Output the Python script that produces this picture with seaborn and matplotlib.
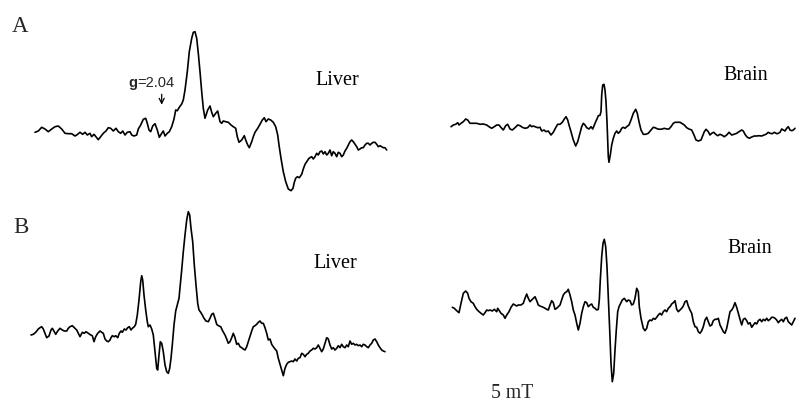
import matplotlib
matplotlib.use("Agg")
import matplotlib.pyplot as plt
import pandas as pd
import seaborn as sns

# EPR first-derivative traces: field offset (arbitrary units) and signal amplitude (a.u.)
liver_a_field = [0, 3.3, 6.7, 10, 13.3, 16.7, 20, 23.3, 26.7, 30, 33.3, 36.7, 40, 41.7, 45, 47.7, 50, 52.3, 55, 56.7,
                 59, 61.7, 63.3, 65.7, 68.3, 71, 73.3, 75.7, 78.3, 81, 83.3, 85.7, 87.7, 90, 92.3, 95, 96.7, 99, 101.7,
                 103.3, 105.7, 108.3, 110.7, 112.3, 114, 115.7, 117.7, 120, 122.3, 124.3, 126.7, 128.3, 130, 132.3,
                 134.3, 136.7, 139, 140.7, 142.3, 144.3, 146.7, 148.3, 150, 152.3, 154.3, 156.7, 158.3, 160, 161.7,
                 163.3, 165, 166.7, 168.3, 170, 172.7, 175, 176.7, 178.3, 180.7, 182.7, 185, 186.7, 188.3, 190.7,
                 193.3, 196, 198.3, 200.7, 202.3, 204, 206.7, 209.3, 210.7, 212.7, 214.3, 216.7, 218.3, 220, 222.7,
                 225, 227.3, 229.3, 231, 233.3, 235.7, 238.3, 240.7, 242.7, 244, 246, 248.3, 250.7, 253.3, 256, 258,
                 259.3, 260.7, 262.3, 264.3, 266.7, 268.3, 270, 271.7, 274, 276.7, 278.3, 280, 281.7, 283.3, 285,
                 286.7, 288.3, 290, 291.7, 293.3, 295, 296.7, 298.3, 300, 301.7, 303.3, 305, 306.7, 308.3, 310, 311.7,
                 313.3, 315, 316.7, 318.3, 320, 321.7, 323.3, 325, 326.7, 328.3, 330, 331.7, 333.3, 335, 336.7, 338.3,
                 340, 341.7, 343.3, 345, 346.7, 348.3, 350, 351.7]
liver_a_signal = [-0.3, 1, 4.7, 3, 0.3, 3, 5.3, 6, 3, -1.3, -1.7, -1.7, -4, -3, -0.3, -2.3, -0.3, -3, -1.3, -4.7,
                  -2.3, -5.7, -7.7, -4.7, -1.3, 1, 4.3, 3.7, 1, 3.7, 0.3, -1.3, 1, -3, -0.3, 0.3, -3, -4, -3,
                  3, 7, 12.7, 13.7, 8.7, 2, 0.3, 6, 8.3, 2, -5.3, -1.3, 1, -4, -1.3,
                  0.3, 5.3, 13, 22, 21.3, 24.7, 28, 32, 42, 60.3, 80.3, 93.7, 99.7, 100.3, 93.7,
                  78.7, 60.3, 40.3, 23.7, 13.7, 22, 26, 19.7, 15.3, 18.7, 21, 10.3, 8.7, 11, 10.3,
                  9.7, 7, 5.3, 3.7, -4.7, -10.3, -8, -3.7, -8, -13, -15.7, -9.7, -4.7, -0.3, 3.7,
                  7.7, 12, 14.3, 10.3, 13, 12, 9.7, 5.3, -3, -13, -26.3, -39.7, -49.7, -57, -58.7, -56.3,
                  -50.3, -46.3, -44.7, -45.7, -42.3, -37, -32.3, -29.7, -26.3, -24.7, -27, -24.7, -21.3, -23, -19.7,
                  -19, -22, -19.7, -23, -21.3, -18, -23.7, -19.7, -21.3, -24.7, -20.3, -21.3, -24.7, -23, -19, -16.3,
                  -13, -9.7, -8, -9.7, -12.3, -14.7, -18, -17, -15.7, -15.7, -13, -11.3, -11.3, -13, -11.3, -10.3,
                  -10.3, -12.3, -14.7, -13.7, -14.7, -15.7, -15.7, -18]

brain_a_field = [0, 2.3, 4.7, 6.7, 8, 10, 12.3, 14.7, 16.7, 19, 22.3, 25.7, 29, 32.3, 35.7, 38, 40.7, 43.3, 45.7,
                 48, 50.7, 52.3, 54.7, 56.7, 59, 61.3, 64, 66.7, 69, 71.3, 74, 76.7, 79, 80.7, 82.3, 84, 86.7, 89,
                 90.7, 93, 95, 97.3, 100, 102.3, 104.7, 106.7, 109, 111.3, 113.3, 115, 116.7, 118, 120, 122.3, 124.7,
                 126.7, 129, 130.7, 132.3, 134, 135.7, 138, 140, 141.7, 143.3, 144.7, 146, 147.3, 149, 150, 150.7,
                 151.7, 153, 154, 155, 156, 156.7, 157.3, 158, 159.3, 160.7, 162.3, 164, 165.7, 167.3, 169, 170.7,
                 172.3, 174, 175.7, 178, 180, 182.3, 184.7, 186.3, 188, 190, 192.3, 194.7, 197.3, 200, 202.3, 204,
                 206.7, 209, 211.3, 213.3, 215.7, 218, 220, 222.3, 224, 226.7, 229, 230.7, 233.3, 235.7, 238, 240.7,
                 243, 245, 247.3, 250, 251.3, 253.3, 255, 257.3, 259, 260.7, 262.7, 264.7, 266.7, 269, 270.7, 273.3,
                 275.7, 278, 280.7, 283, 285.7, 288, 290.7, 292.3, 294, 296, 298.3, 300.7, 303.3, 305.7, 308, 310.7,
                 313, 315, 317.3, 319, 321.3, 323.3, 325.7, 327.3, 329, 330.7, 332.3, 334, 335.7, 337.3, 339, 340.7,
                 342.3, 344]
brain_a_signal = [-1.7, 0, 0.7, 2.3, 0, 1.7, 3.3, 6, 5, 1.7, 1.7, 1.7, 0.7, 1, 0, -1.7, -3.3, -1.7, 0,
                  0, -3.3, -5, -0.7, 0.7, -4, -5, -2.7, 0, -0.7, -2.3, -3.3, -2.7, 0, -1.7, -1, -1.7, -2.7, -2.3,
                  -6, -5, -6.7, -6, -10, -7.3, -2.7, 0.7, 0.7, 2.7, 6, 8.3, 5, 0, -6.7, -15, -21,
                  -16.7, -8.3, -1.7, 1.7, 0, -2.7, -4, -1.7, -4, 0, 3.3, 6, 9.3, 9.7, 13.3, 30,
                  40, 40.7, 35, 23.3, 3.3, -16.7, -31.7, -37.3, -30, -20, -13.3, -8.3, -6, -8.3, -6.7, -3.3,
                  -2.3, -3.3, -1.7, 0, 5, 11.7, 15.7, 11.7, 3.3, -5, -9.3, -9.3, -8.3, -5, -2.3, -2.7,
                  -4, -4.3, -4, -3.3, -4, -4, -1.7, 1.7, 2.7, 2.7, 2.7, 1.7, 0, -2.7, -4, -5,
                  -10, -15, -16, -15, -11.7, -6.7, -4.3, -6.7, -10, -8.3, -7.3, -9.3, -10.7, -9.3, -10, -11.7,
                  -10, -7.3, -10, -9.3, -8.3, -6.7, -5, -6, -9.3, -12, -13.3, -12, -11, -11, -10.7, -11,
                  -10, -9.3, -7.3, -8.3, -8.7, -7.3, -8.7, -8.3, -7.3, -4, -5, -6, -3.3, -1.7, -5, -5.7,
                  -5, -3.3]

liver_b_field = [0, 2.3, 4.7, 7.3, 9, 10.7, 12.3, 14, 15.7, 18, 20, 21.3, 23.3, 24.7, 26.7, 29, 31.3, 33.3, 35.7,
                 37.3, 39, 41.3, 43.3, 45.7, 47.3, 49, 51.3, 53.3, 55, 57.3, 59.7, 61.3, 63, 64.7, 66.7, 69, 70.7,
                 72.3, 74, 75.7, 77.3, 79, 80, 81.3, 83.3, 84.7, 86.7, 88.3, 90, 91.3, 93.3, 95, 96.7, 98.3, 100,
                 101.3, 103.3, 104.7, 106.3, 108, 109.7, 110.7, 111.7, 113, 114.7, 116.3, 117.3, 119, 120.7, 122.3,
                 124, 125.7, 126.7, 128, 129.3, 130.7, 132.3, 134, 135.7, 137.3, 138.7, 140, 141.3, 143, 144.7,
                 146.7, 148, 149.3, 150.7, 152.3, 154, 155.7, 157.3, 158.7, 160, 161.7, 163.3, 165, 166.7, 168,
                 169.7, 171.3, 173, 175, 177.3, 179, 180.7, 182.3, 184, 185.7, 187.3, 189.7, 191.7, 194, 195.7,
                 197.3, 199, 200.7, 202.3, 204, 205.7, 207.3, 209, 210.7, 212.3, 214, 215.7, 217.3, 219, 220.7,
                 222.3, 224, 225.7, 227.3, 229, 230.7, 232.3, 234, 235.7, 237.3, 239, 240.7, 242.3, 244, 245.7,
                 247.3, 249, 250.7, 252.3, 254, 255.7, 257.3, 259, 260.7, 262.3, 264, 265.7, 267.3, 269, 270.7,
                 272.3, 274, 275.7, 277.3, 279, 280.7, 282.3, 284, 285.7, 287.3, 289, 290.7, 292.3, 294, 295.7,
                 297.3, 299, 300.7, 302.3, 304, 305.7, 307.3, 309, 310.7, 312.3, 314, 315.7, 317.3, 319, 320.7,
                 322.3, 324, 325.7, 327.3, 329, 330.7, 332.3, 334, 335.7, 337.3, 339, 340.7, 342.3, 344, 345.7,
                 347.3, 349, 350.7, 352.3, 354]
liver_b_signal = [-3, -2.3, -0.3, 3, 4.3, 5.3, 3, -1.3, -5.7, -4, 2, 3.7, 0.3, -2.3, 1, 3.7, 2, 1, 1,
                  3.7, 5.3, 6.3, 4.3, 2, -1.3, -4.7, -0.3, -1.3, 0.3, -1.3, -3, -3.7, -9.7, -4.7, -1.3, 1, -0.3,
                  -1.3, -7, -9, -9.7, -8, -5.7, -3.7, -4.7, -3.7, -5.7, -1.3, 1, -0.3, 3, 2, 4.3, 5.3, 2,
                  3.7, 5.3, 7.7, 17, 32, 50.3, 56.3, 52, 37, 22, 10.3, 5.3, 7, 3, -3,
                  -19.7, -36.3, -38, -23, -9.7, -11.3, -19.7, -33, -39.7, -41.3, -36.3, -26.3, -13, 7, 21,
                  28.7, 33.7, 47, 62, 80.3, 97, 112, 120.3, 117, 103.7, 90.3, 67, 47, 28.7, 22,
                  19.7, 17, 13.7, 11, 10.3, 13.7, 17.7, 18.7, 13.7, 7.7, 6.3, 5.3, 1, -3, -7,
                  -11.3, -9.7, -5.7, -1.3, -5.7, -12.3, -11.3, -14.7, -15.7, -17, -18, -14.7, -9.7, -4.7, 1,
                  5.3, 6.3, 7.7, 9.7, 11, 8.7, 8.7, 4.3, -1.3, -8, -7, -12.3, -14.7, -17, -19,
                  -26.3, -32.3, -38, -43.7, -36.3, -32.3, -30.3, -29.7, -29, -29.7, -27, -29, -26.3, -25.7, -21.3,
                  -22.3, -24.7, -22.3, -21.3, -19, -18, -16.3, -17, -15.7, -13, -16.3, -19.7, -17, -11.3, -5.7,
                  -7, -13, -17, -15.7, -18, -16.3, -13.7, -15.7, -12.3, -14.7, -15.7, -13, -14.7, -9, -12.3,
                  -11.3, -13, -12.3, -13.7, -13, -14.7, -12.3, -13, -14.7, -15.7, -13, -11.3, -8, -7, -9.7,
                  -13, -15.7, -18, -19, -19.7]

brain_b_field = [0.3, 2.3, 4.7, 7, 9, 11.3, 13.7, 15.7, 17, 19, 21.3, 23, 24.7, 26.3, 29, 31.3, 33, 34.7, 36.3,
                 38, 40.3, 42.3, 44.7, 45.7, 47.3, 49, 51.3, 53, 54.7, 57, 59, 61.3, 63, 64.7, 66.3, 69, 71.3,
                 73, 74.7, 76.3, 78, 79.7, 81.3, 83, 84.7, 86.3, 88, 89.7, 91.3, 93, 94.7, 96.3, 98, 99.7, 101.3,
                 103, 104.7, 106.3, 108, 109.7, 111.3, 113, 114.7, 116.3, 118, 119.7, 121.3, 123, 124.7, 126.3,
                 128, 129.7, 131.3, 133, 134.7, 136.3, 138, 139.7, 141.3, 143, 144.7, 146.3, 147.3, 148.3, 149.7,
                 151, 152.3, 153.7, 155, 156.3, 157.7, 159, 160.3, 161.7, 163, 164.3, 165.7, 167, 168.7, 170.3,
                 172.3, 174.7, 176.3, 178, 179.7, 181.3, 183, 184.7, 186.3, 187.3, 189, 191.3, 193, 194.7, 196.3,
                 198, 199.7, 201.3, 203, 204.7, 206.3, 208, 209.7, 211.3, 213, 214.7, 216.3, 218, 219.7, 221.3,
                 223, 224.7, 226.3, 228, 229.7, 231.3, 233, 234.7, 236.3, 238, 239.7, 241.3, 243, 244.7, 246.3,
                 248, 249.7, 251.3, 253, 254.7, 256.3, 258, 259.7, 261.3, 263, 264.7, 266.3, 268, 269.7, 271.3,
                 273, 274.7, 276.3, 278, 279.7, 281.3, 283, 284.7, 286.3, 288, 289.7, 291.3, 293, 294.7, 296.3,
                 298, 299.7, 301.3, 303, 304.7, 306.3, 308, 309.7, 311.3, 313, 314.7, 316.3, 318, 319.7, 321.3,
                 323, 324.7, 326.3, 328, 329.7, 331.3, 333, 334.7, 336.3, 338, 339.7, 341.3, 343]
brain_b_signal = [-0.3, -1.3, -3.7, -5.7, 3.7, 13.7, 16, 13.7, 8.7, 5.3, 3.7, 0.3, -2.3, -4, -6.3, -8, -5.7, -3, -3.7,
                  -3, -4, -2.3, -4.7, -1.3, -3.7, -6.3, -8, -11.3, -8, -4.7, -0.3, 3, 2, 1, 2, 2, 3.7,
                  8.7, 13, 8.7, 5.3, 7, 8.7, 10.3, 6.3, 2, 1, 0.3, -0.3, -1.3, -2.3, -3, 2, 6.3, 4.3,
                  -2.3, -1.3, 0.3, 2, 7, 12, 14.3, 15.3, 17.7, 12, 5.3, -3, -8, -16.3, -23,
                  -16.3, -6.3, 0.3, 5.3, 4.3, 0.3, 2, 3, -0.3, -1.3, -3, -2.3, 7, 27, 50.3,
                  63.7, 67.7, 60.3, 40.3, 10.3, -23, -56.3, -74.7, -66.3, -43, -23, -4.7, 0.3, 3.7, 7,
                  8.7, 5.3, 7, 6.3, 2, 3, 8.7, 18.7, 15.3, 0.3, -11.3, -21.3, -23.7, -21.3, -14.7,
                  -13, -13.7, -11.3, -12.3, -10.3, -8, -6.3, -8, -4.7, -3, -4.7, -1.3, 0.3, 3, 4.3,
                  6.3, -2.3, -4.7, -3, -1.3, 1, 5.3, 6.3, 1, -3, -6.3, -14.7, -19.7, -20.3, -24.7,
                  -26.3, -23.7, -19.7, -13, -10.3, -14.7, -19, -18, -13.7, -12.3, -12.3, -11.3, -18, -21.3, -24.7,
                  -26.3, -21.3, -13, -4.7, -3, -0.3, 4.3, -0.3, -6.3, -12.3, -18, -12.3, -11.3, -13.7, -17,
                  -15.7, -20.3, -18, -15.7, -17, -13.7, -12.3, -14.7, -12.3, -13.7, -11.3, -13.7, -12.3, -10.3, -10.3,
                  -11.3, -13, -15.7, -13.7, -12.3, -14.7, -11.3, -10.3, -14.7, -16.3, -18, -14.7, -11.3]

panel_names = ["liver_a", "brain_a", "liver_b", "brain_b"]
panel_labels = ["Liver", "Brain", "Liver", "Brain"]
row_labels = ["A", "B"]
g_label = "2.04"
scale_label = "5 mT"

# Layout: origin (left end, baseline) of each trace on the page, in pixels
origins = {"liver_a": (35, 132), "brain_a": (451, 125), "liver_b": (31, 332), "brain_b": (452, 307)}
label_pos = {"liver_a": (315, 85), "brain_a": (723, 80), "liver_b": (313, 268), "brain_b": (727, 253)}

traces = {
    "liver_a": (liver_a_field, liver_a_signal),
    "brain_a": (brain_a_field, brain_a_signal),
    "liver_b": (liver_b_field, liver_b_signal),
    "brain_b": (brain_b_field, brain_b_signal),
}

sns.set_style("white")
plt.rcParams["font.family"] = ["Liberation Serif", "DejaVu Serif"]

W, H = 796, 407
fig = plt.figure(figsize=(W / 100, H / 100), dpi=100)
ax = fig.add_axes([0, 0, 1, 1])
ax.set_xlim(0, W)
ax.set_ylim(H, 0)
ax.axis("off")

for name in panel_names:
    field, signal = traces[name]
    x0, y0 = origins[name]
    df = pd.DataFrame({"x": [x0 + f for f in field], "y": [y0 - s for s in signal]})
    sns.lineplot(data=df, x="x", y="y", ax=ax, sort=False, estimator=None,
                 color="black", linewidth=1.2)

for name, text in zip(panel_names, panel_labels):
    lx, ly = label_pos[name]
    ax.text(lx, ly, text, fontsize=14.5, ha="left", va="baseline", color="black")

ax.text(12, 32, row_labels[0], fontsize=16.5, ha="left", va="baseline")
ax.text(13, 233, row_labels[1], fontsize=16.5, ha="left", va="baseline")
ax.text(491, 398, scale_label, fontsize=14.2, ha="left", va="baseline")

# g-value marker with downward arrow
ax.text(128, 87, "g", fontsize=10.5, fontweight="bold", family="Liberation Sans",
        ha="left", va="baseline")
ax.text(137.5, 87, "=" + g_label, fontsize=10.5, family="Liberation Sans",
        ha="left", va="baseline")
ax.annotate("", xy=(161.7, 107.5), xytext=(161.7, 91.5),
            arrowprops=dict(arrowstyle="->", color="black", lw=0.9, mutation_scale=9))

fig.savefig("out.png", dpi=100, facecolor="white")
